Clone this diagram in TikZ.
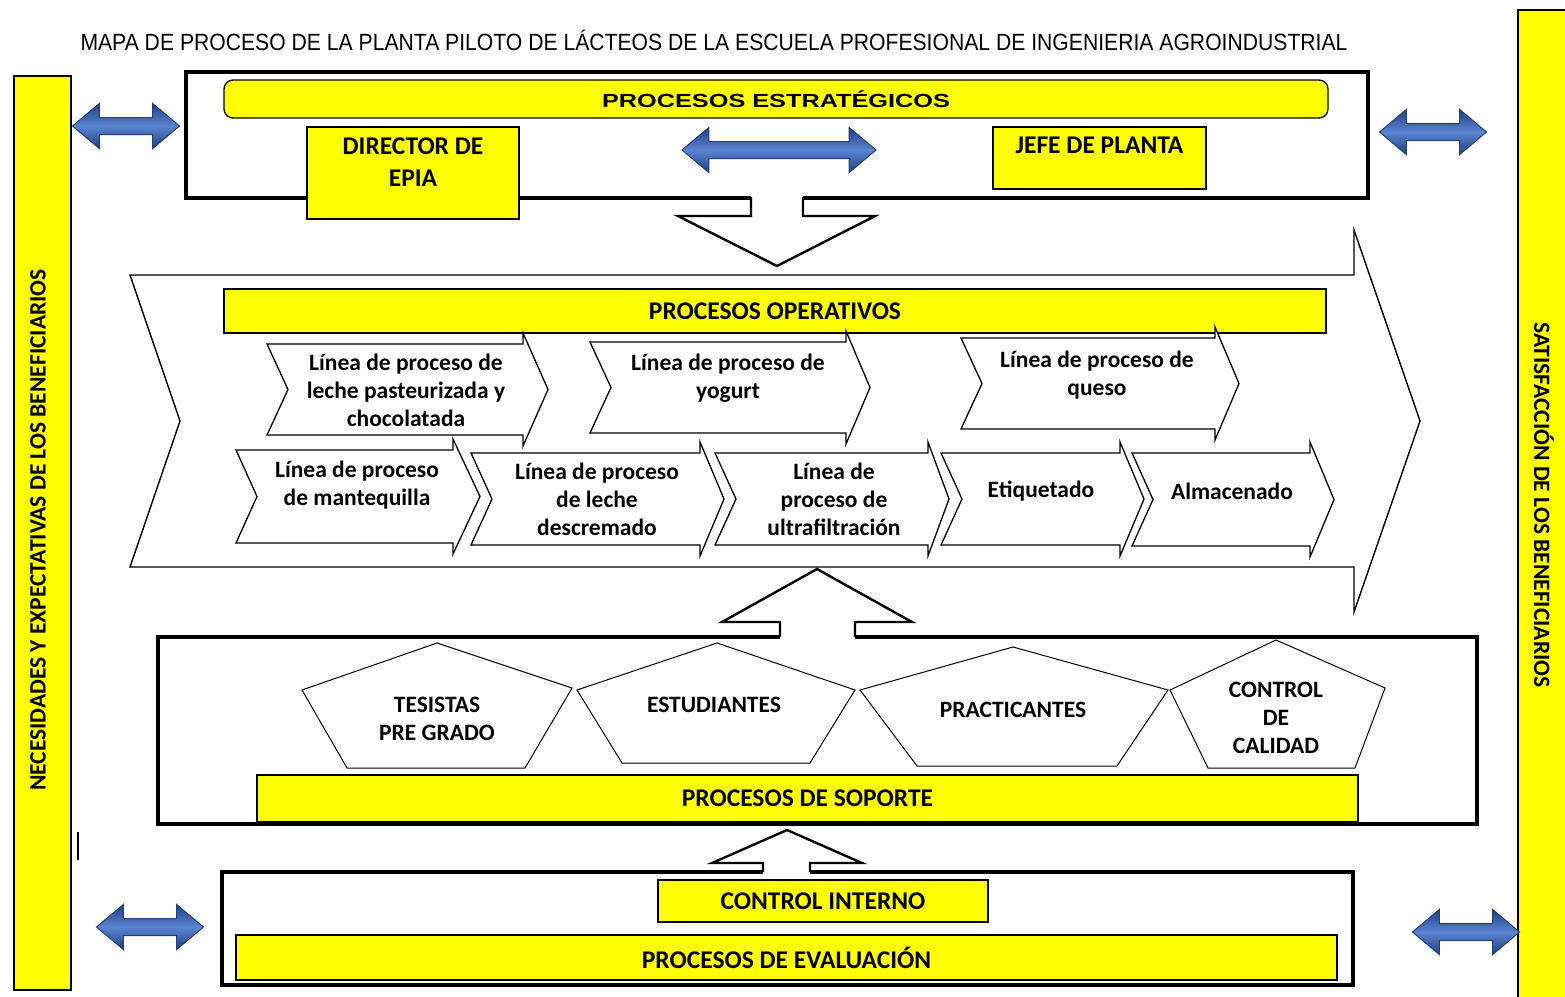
\documentclass[tikz,border=0pt]{standalone}
\usepackage{fontspec}
\setmainfont{Carlito}
\newfontfamily\titlefont[FakeStretch=0.9]{Liberation Sans}
\newfontfamily\widefont[FakeStretch=1.33]{Liberation Sans}
\usetikzlibrary{shapes.arrows}

\definecolor{amarillo}{HTML}{FFFF00}
\definecolor{azul}{HTML}{3F6FC9}
\definecolor{azulosc}{HTML}{1F3F80}

\begin{document}
\begin{tikzpicture}[x=1pt,y=-1pt,
    marco/.style={draw,line width=3.2pt},
    barra/.style={draw,fill=amarillo,line width=1.3pt,inner sep=0pt,
      font=\fontsize{25.5}{28}\selectfont\bfseries},
    cargo/.style={draw,fill=amarillo,line width=1.5pt,inner sep=0pt},
    chev/.style={draw,fill=white,line width=1.3pt,line join=miter},
    flecha/.style={draw,fill=white,line width=2.4pt,line join=miter},
    txt/.style={align=center,inner sep=0pt,
      font=\fontsize{23.5}{28}\selectfont\bfseries},
    dflecha/.style={double arrow,draw=azulosc,line width=1pt,
      inner xsep=0pt,inner ysep=8pt,
      top color=azulosc,bottom color=azulosc,middle color=azul!85!white,
      minimum height=107,minimum width=44,
      double arrow head extend=14,double arrow tip angle=80}]

  \useasboundingbox (0,0) rectangle (1565,996);

  % titulo
  \node[font=\titlefont\fontsize{23.5}{26}\selectfont] (titulo) at (714,40)
    {MAPA DE PROCESO DE LA PLANTA PILOTO DE LÁCTEOS DE LA ESCUELA PROFESIONAL DE INGENIERIA AGROINDUSTRIAL};

  % barras laterales
  \draw[fill=amarillo,line width=1.6pt] (14,76) rectangle (71,990);
  \draw[fill=amarillo,line width=1.6pt] (1518,10) rectangle (1580,1010);
  \node[rotate=90,txt] (necesidades) at (38,530)
    {NECESIDADES Y EXPECTATIVAS DE LOS BENEFICIARIOS};
  \node[rotate=-90,txt] (satisfaccion) at (1544,505)
    {SATISFACCIÓN DE LOS BENEFICIARIOS};
  \draw[line width=1.2pt] (78,832) -- (78,860);

  % procesos estrategicos
  \draw[marco] (186,72) rectangle (1368,198);
  \node[barra,rounded corners=9pt,minimum width=1104,minimum height=38,
    font=\widefont\fontsize{19}{22}\selectfont\bfseries] (estrategicos) at (776,99)
    {PROCESOS ESTRATÉGICOS};
  \node[cargo,minimum width=212,minimum height=92] (director) at (413,173) {};
  \node[txt,font=\fontsize{25.5}{32}\selectfont\bfseries,anchor=north] (directortxt)
    at ([yshift=-11pt]director.north) {DIRECTOR DE\\EPIA};
  \node[cargo,minimum width=213,minimum height=62] (jefe) at (1099.5,158) {};
  \node[txt,font=\fontsize{25.5}{32}\selectfont\bfseries,anchor=north] (jefetxt)
    at ([yshift=-11pt]jefe.north) {JEFE DE PLANTA};
  \node[dflecha,minimum height=194] (flechaint) at (779,150) {};

  % flecha hacia abajo
  \fill[white] (751,194) -- (751,216) -- (678,216) -- (777,266) -- (875,216)
    -- (803,216) -- (803,194) -- cycle;
  \draw[flecha] (751,197) -- (751,216) -- (678,216) -- (777,266) -- (875,216)
    -- (803,216) -- (803,197);

  % procesos operativos
  \draw[chev,line width=1.4pt] (130,275) -- (1354,275) -- (1354,230) -- (1420,421)
    -- (1354,612) -- (1354,567) -- (130,567) -- (180,421) -- cycle;
  \node[barra,minimum width=1102,minimum height=44] (operativos) at (775,311)
    {PROCESOS OPERATIVOS};

  \foreach \xa/\xb/\xc/\ya/\yb in {267/523/548/344/435, 590/846/870/342/433,
      961/1215/1239/338/429, 236/453/480/450/543, 471/700/724/453/545,
      715/928/949/453/545, 941/1120/1144/453/545, 1132/1310/1334/453/546}
    \draw[chev] (\xa,\ya) -- (\xb,\ya) -- (\xb,\ya-11) -- (\xc,{(\ya+\yb)/2})
      -- (\xb,\yb+11) -- (\xb,\yb) -- (\xa,\yb) -- (\xa+21,{(\ya+\yb)/2}) -- cycle;

  \node[txt] (leche) at (406,390) {Línea de proceso de\\leche pasteurizada y\\chocolatada};
  \node[txt] (yogurt) at (728,378) {Línea de proceso de\\yogurt};
  \node[txt] (queso) at (1097,375) {Línea de proceso de\\queso};
  \node[txt] (mantequilla) at (357,485) {Línea de proceso\\de mantequilla};
  \node[txt] (descremado) at (597,499) {Línea de proceso\\de leche\\descremado};
  \node[txt] (ultra) at (834,499) {Línea de\\proceso de\\ultrafiltración};
  \node[txt] (etiquetado) at (1041,491) {Etiquetado};
  \node[txt] (almacenado) at (1232,491) {Almacenado};

  % procesos de soporte
  \draw[marco] (158,637) rectangle (1477,824);
  \fill[white] (780,641) -- (780,622) -- (722,622) -- (817,569) -- (912,622)
    -- (855,622) -- (855,641) -- cycle;
  \draw[flecha] (780,637) -- (780,622) -- (722,622) -- (817,569) -- (912,622)
    -- (855,622) -- (855,637);

  \draw[chev,line width=1pt] (437,643) -- (572,688) -- (525,768) -- (347,768) -- (302,690) -- cycle;
  \draw[chev,line width=1pt] (717,643) -- (855,690) -- (810,763) -- (622,763) -- (577,690) -- cycle;
  \draw[chev,line width=1pt] (1013,647) -- (1168,690) -- (1117,766) -- (917,766) -- (860,690) -- cycle;
  \draw[chev,line width=1pt] (1276,640) -- (1385,688) -- (1355,768) -- (1208,768) -- (1170,690) -- cycle;
  \node[txt] (tesistas) at (437,719) {TESISTAS\\PRE GRADO};
  \node[txt] (estudiantes) at (714,705) {ESTUDIANTES};
  \node[txt] (practicantes) at (1013,710) {PRACTICANTES};
  \node[txt] (calidad) at (1276,718) {CONTROL\\DE\\CALIDAD};
  \node[barra,minimum width=1101,minimum height=47] (soporte) at (807.5,798.5)
    {PROCESOS DE SOPORTE};

  % procesos de evaluacion
  \draw[marco] (222,872) rectangle (1353,985);
  \fill[white] (763,876) -- (763,863) -- (712,863) -- (787,830) -- (862,863)
    -- (810,863) -- (810,876) -- cycle;
  \draw[flecha] (763,872) -- (763,863) -- (712,863) -- (787,830) -- (862,863)
    -- (810,863) -- (810,872);
  \node[barra,minimum width=330,minimum height=42] (interno) at (823,901)
    {CONTROL INTERNO};
  \node[barra,minimum width=1101,minimum height=45] (evaluacion) at (786.5,957.5)
    {PROCESOS DE EVALUACIÓN};

  % flechas azules
  \node[dflecha] (flechaA) at (126,126) {};
  \node[dflecha] (flechaB) at (1433,132) {};
  \node[dflecha] (flechaC) at (150,927) {};
  \node[dflecha] (flechaD) at (1466,932) {};
\end{tikzpicture}
\end{document}
